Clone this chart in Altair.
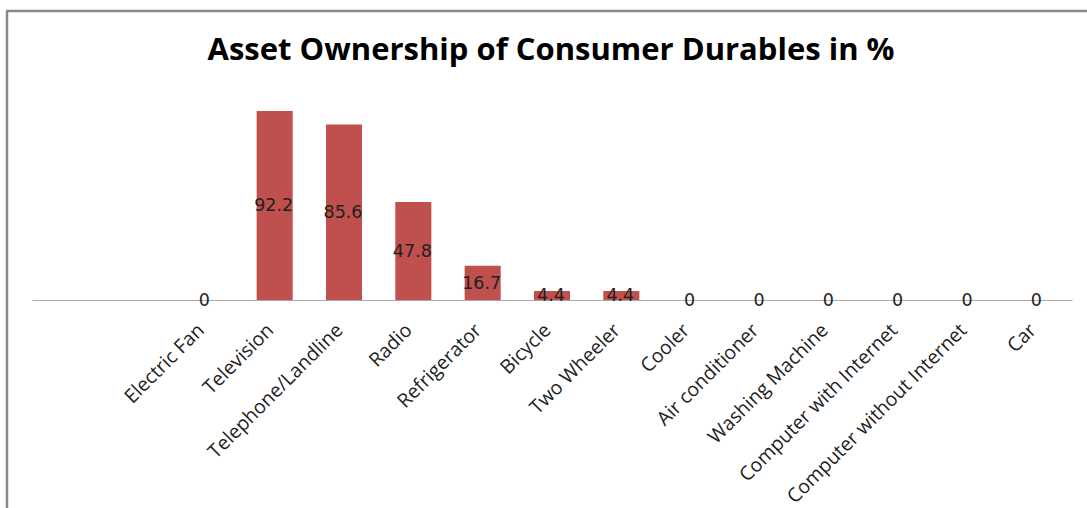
import altair as alt
import pandas as pd

categories = ["Electric Fan", "Television", "Telephone/Landline", "Radio", "Refrigerator",
              "Bicycle", "Two Wheeler", "Cooler", "Air conditioner", "Washing Machine",
              "Computer with Internet", "Computer without Internet", "Car"]
values = [0, 92.2, 85.6, 47.8, 16.7, 4.4, 4.4, 0, 0, 0, 0, 0, 0]
value_labels = ["0", "92.2", "85.6", "47.8", "16.7", "4.4", "4.4", "0", "0", "0", "0", "0", "0"]
# two empty leading slots on the category axis, as in the original
blank_slots = ["_b1", "_b2"]
title_text = "Asset Ownership of Consumer Durables in %"

df = pd.DataFrame({"cat": categories, "val": values, "lbl": value_labels})
domain = blank_slots + categories

W, H = 1040, 205
xscale = alt.Scale(domain=domain, paddingInner=0.48, paddingOuter=0.24)
yscale = alt.Scale(domain=[0, 100], nice=False)

x = alt.X("cat:N", sort=domain, scale=xscale,
          axis=alt.Axis(title=None, labelAngle=315, labelFont="Open Sans", labelFontSize=19.5,
                        labelColor="#222222", ticks=False, domainColor="#AAAAAA",
                        labelAlign="right", labelBaseline="alphabetic",
                        domainWidth=1.2, labelPadding=31, grid=False, labelLimit=400,
                        labelExpr="substring(datum.value,0,1)=='_' ? '' : datum.value"))
y = alt.Y("val:Q", scale=yscale, axis=None)

base = alt.Chart(df)
bars = base.mark_bar(color="#C0504D").encode(x=x, y=y)
labels = base.transform_calculate(mid="datum.val/2").mark_text(
    font="DejaVu Sans", fontSize=17.5, color="#222222", baseline="middle", dy=1, dx=-1
).encode(x=alt.X("cat:N", sort=domain, scale=xscale),
         y=alt.Y("mid:Q", scale=yscale), text="lbl:N")

one = pd.DataFrame({"t": [title_text]})
title = alt.Chart(one).mark_text(font="Open Sans", fontSize=31, fontWeight="bold",
                                 color="#000000", align="center", baseline="alphabetic").encode(
    x=alt.value(W / 2 - 1), y=alt.value(-35), text="t:N")

border_left = alt.Chart(one).mark_rule(color="#888888", strokeWidth=2.5).encode(
    x=alt.value(-25), y=alt.value(-84), y2=alt.value(420))
border_top = alt.Chart(one).mark_rule(color="#888888", strokeWidth=2.5).encode(
    x=alt.value(-26), x2=alt.value(1070), y=alt.value(-84))

chart = alt.layer(bars, labels, title, border_left, border_top).properties(
    width=W, height=H,
    autosize=alt.AutoSizeParams(type="none"),
    padding={"left": 32, "top": 95, "right": 15, "bottom": 208},
).configure(background="white").configure_view(stroke=None)

chart.save("out.html", embed_options={"renderer": "svg", "actions": False})
